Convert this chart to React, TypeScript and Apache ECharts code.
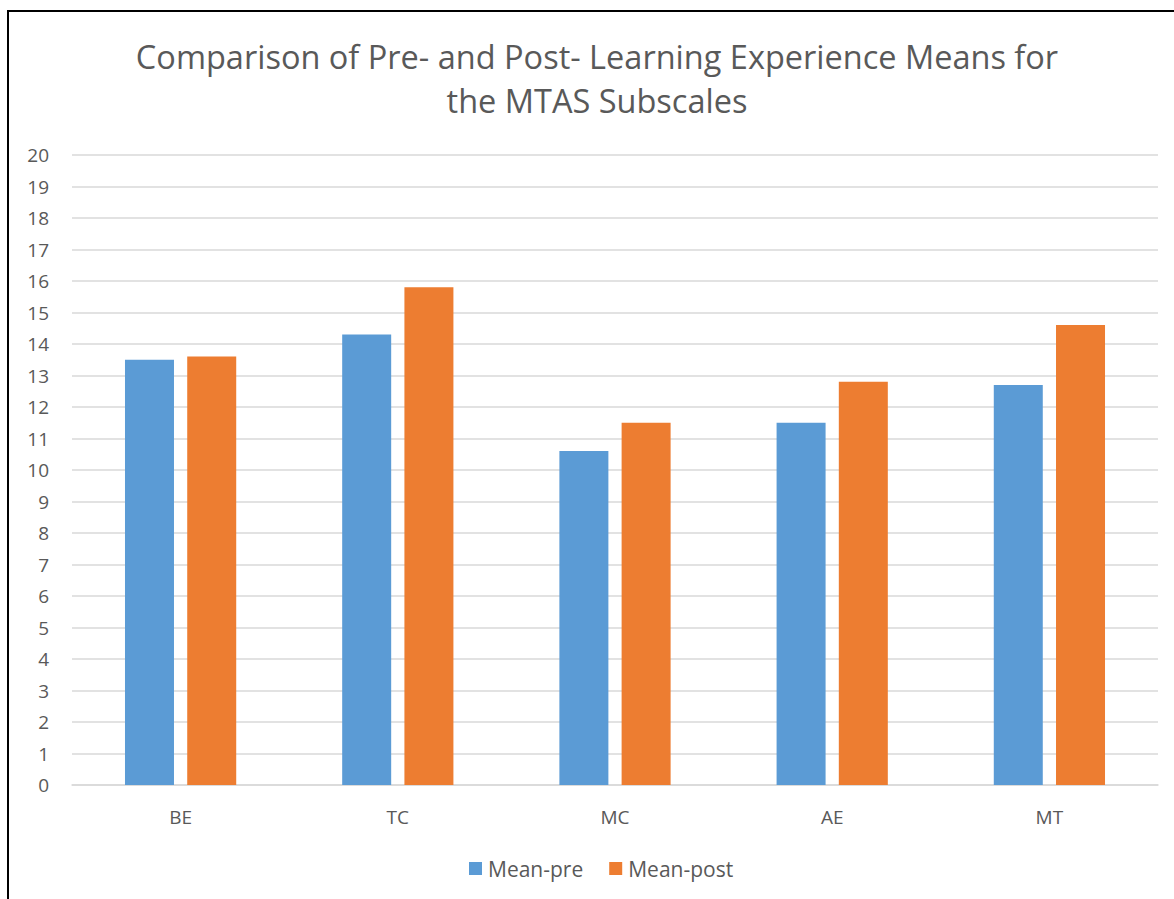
import React, { useEffect, useRef } from "react";
import * as echarts from "echarts";

const categories = ["BE", "TC", "MC", "AE", "MT"];
const meanPre = [13.5, 14.3, 10.6, 11.5, 12.7];
const meanPost = [13.6, 15.8, 11.5, 12.8, 14.6];
const seriesNames = ["Mean-pre", "Mean-post"];
const titleLines = [
  "Comparison of Pre- and Post- Learning Experience Means for",
  "the MTAS Subscales",
];

const FONT = "'Open Sans', 'Noto Sans', sans-serif";
const TEXT = "#595959";
const GRID = "#d9d9d9";

export default function App() {
  const ref = useRef<HTMLDivElement>(null);

  useEffect(() => {
    if (!ref.current) return;
    const chart = echarts.init(ref.current, null, { renderer: "svg" });
    chart.setOption({
      animation: false,
      backgroundColor: "#ffffff",
      textStyle: { fontFamily: FONT },
      title: {
        text: titleLines.join("\n"),
        left: 597,
        textAlign: "center",
        top: 34,
        padding: 0,
        textStyle: {
          fontFamily: FONT,
          fontSize: 32.5,
          fontWeight: "normal",
          color: TEXT,
          lineHeight: 44,
        },
      },
      legend: {
        data: seriesNames,
        bottom: 20,
        left: 469,
        padding: 0,
        itemWidth: 13,
        itemHeight: 13,
        itemGap: 26,
        icon: "rect",
        textStyle: { fontFamily: FONT, fontSize: 21, color: TEXT, padding: [0, 0, 0, 1] },
      },
      grid: { left: 72, right: 16, top: 155, bottom: 114, containLabel: false },
      xAxis: {
        type: "category",
        data: categories,
        axisLine: { show: true, lineStyle: { color: GRID, width: 1.5 } },
        axisTick: { show: false },
        axisLabel: { fontFamily: FONT, fontSize: 19, color: TEXT, margin: 22 },
      },
      yAxis: {
        type: "value",
        min: 0,
        max: 20,
        interval: 1,
        axisLine: { show: false },
        axisTick: { show: false },
        splitLine: { lineStyle: { color: GRID, width: 1.5 } },
        axisLabel: { fontFamily: FONT, fontSize: 19, color: TEXT, margin: 23 },
      },
      series: [
        {
          name: seriesNames[0],
          type: "bar",
          data: meanPre,
          barWidth: 49,
          barGap: "27%",
          itemStyle: { color: "#5b9bd5" },
        },
        {
          name: seriesNames[1],
          type: "bar",
          data: meanPost,
          barWidth: 49,
          barGap: "27%",
          itemStyle: { color: "#ed7d31" },
        },
      ],
      graphic: [
        {
          type: "rect",
          shape: { x: 8, y: 11, width: 1200, height: 1000 },
          style: { fill: "none", stroke: "#000000", lineWidth: 2 },
          silent: true,
        },
      ],
    });
    return () => chart.dispose();
  }, []);

  return (
    <div
      ref={ref}
      style={{ position: "absolute", left: 0, top: 0, width: 1174, height: 899 }}
    />
  );
}
